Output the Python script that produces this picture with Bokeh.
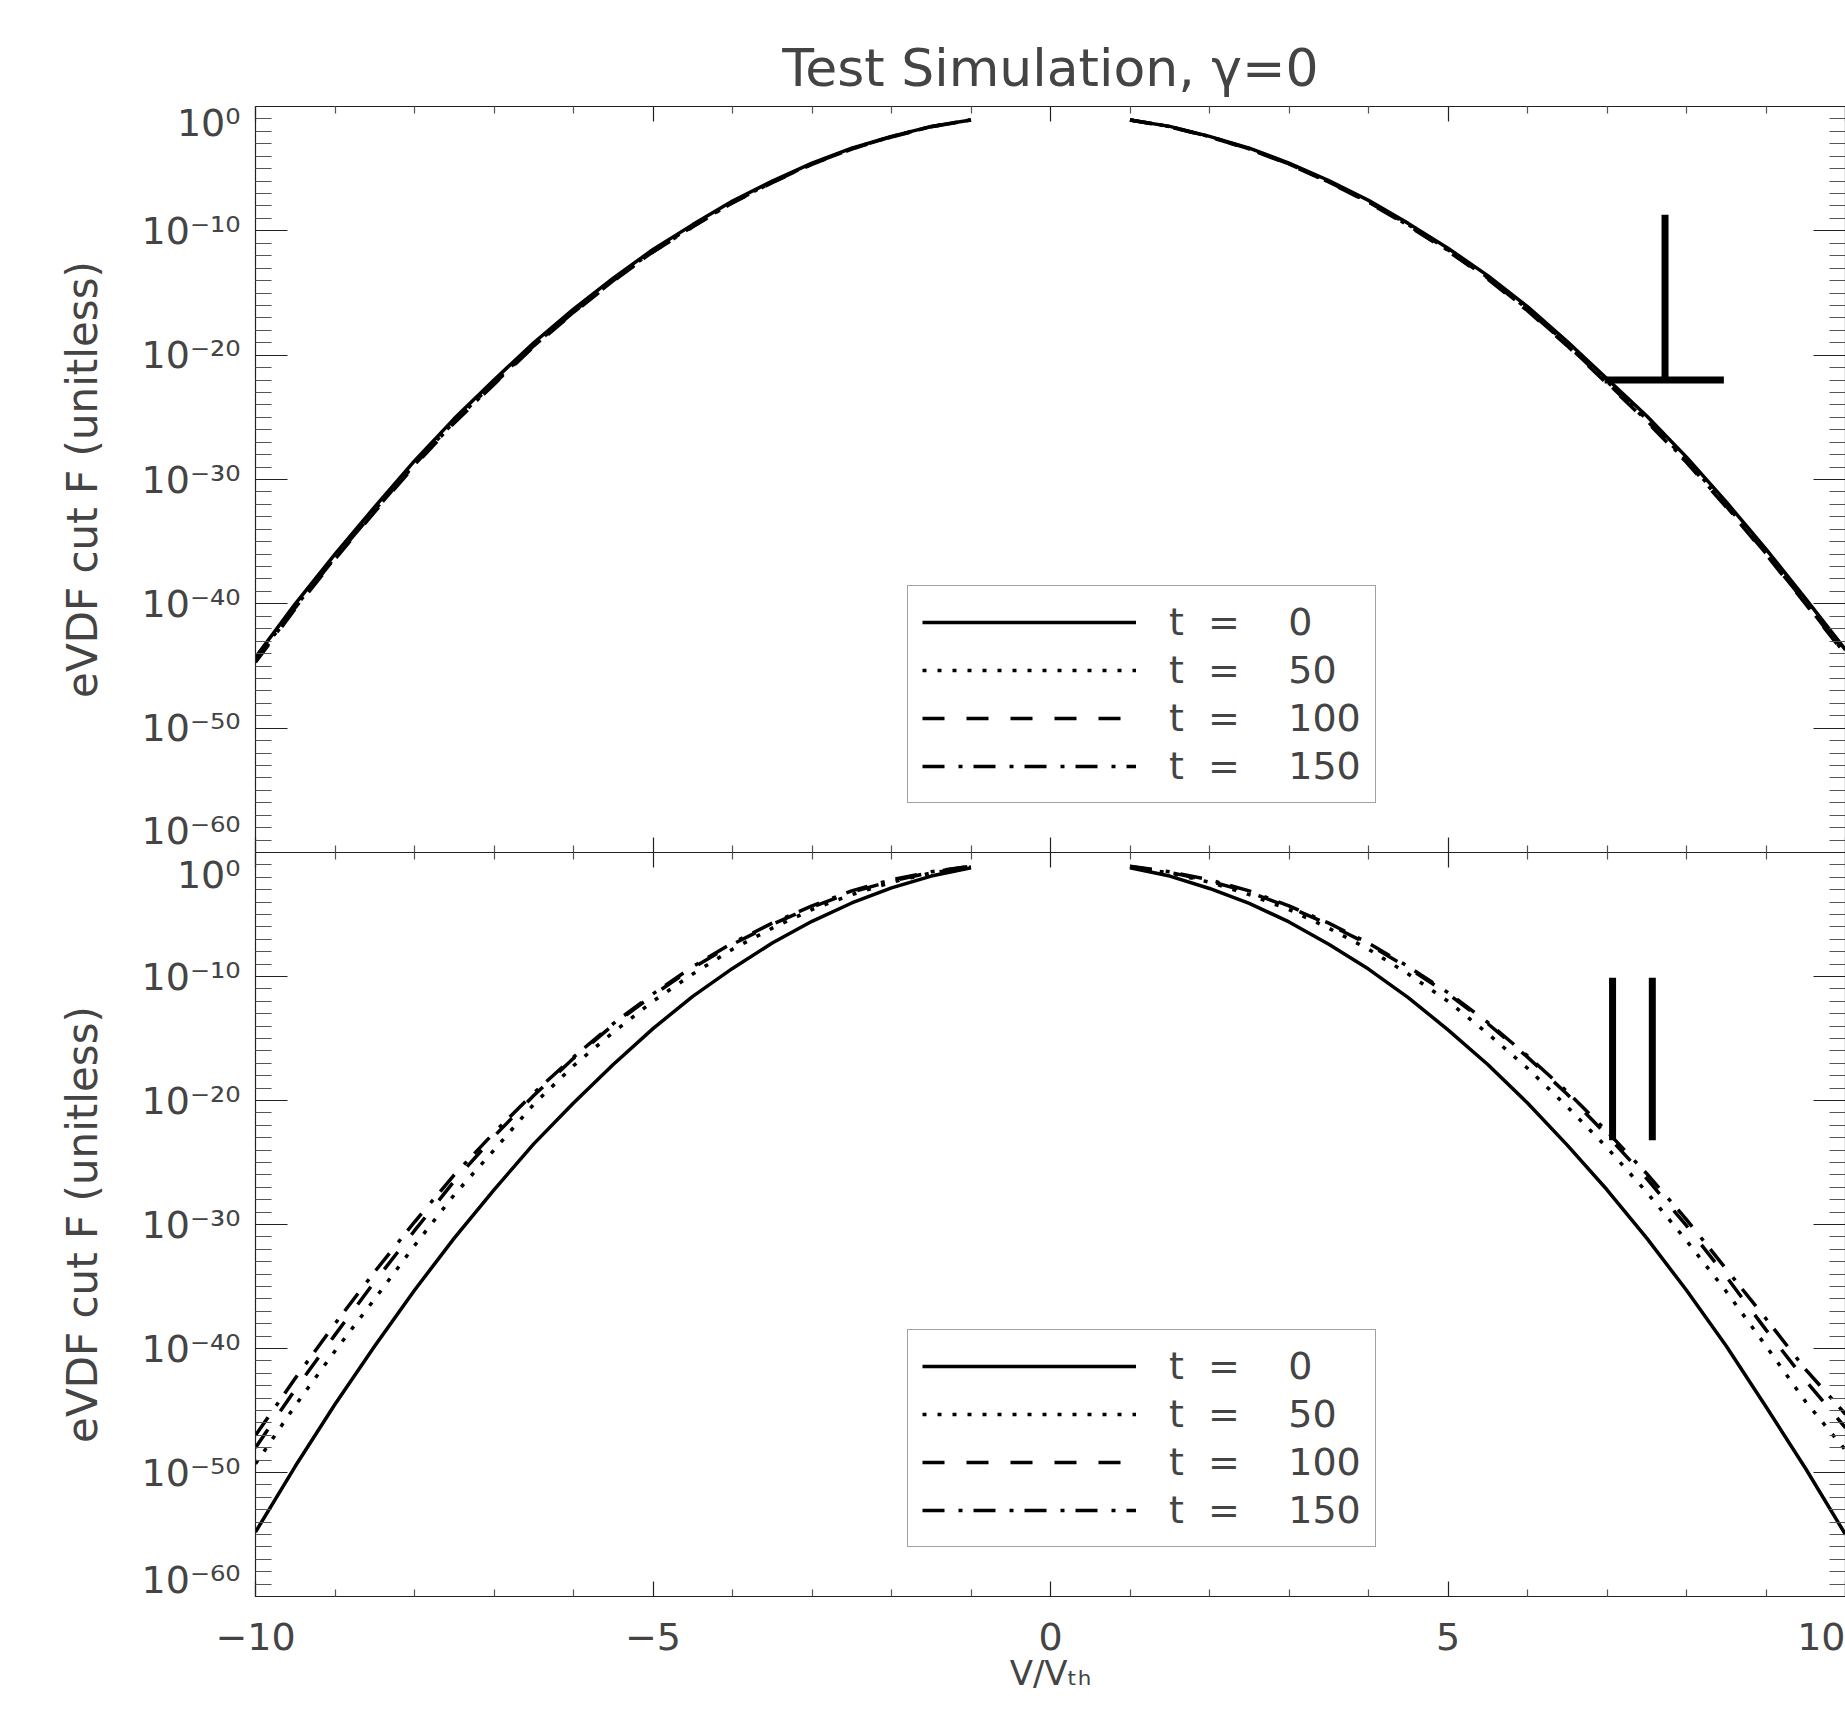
from bokeh.plotting import figure
from bokeh.models import FixedTicker, LogAxis, LinearAxis, Range1d, Legend, LegendItem
from bokeh.layouts import column
from bokeh.embed import file_html
from bokeh.resources import INLINE

# ---------------- data ----------------
TITLE = "Test Simulation, γ=0"
Y_LABEL = "eVDF cut F (unitless)"
X_LABEL = "V/Vₜₕ"

V_NEG = [-10.0, -9.5, -9.0, -8.5, -8.0, -7.5, -7.0, -6.5, -6.0, -5.5,
         -5.0, -4.5, -4.0, -3.5, -3.0, -2.5, -2.0, -1.5, -1.0]
V_POS = [1.0, 1.5, 2.0, 2.5, 3.0, 3.5, 4.0, 4.5, 5.0, 5.5,
         6.0, 6.5, 7.0, 7.5, 8.0, 8.5, 9.0, 9.5, 10.0]

TIMES = [0, 50, 100, 150]
LEGEND_LABELS = ["t  =    0", "t  =    50", "t  =    100", "t  =    150"]

# log10(F), top panel (perpendicular cut), left branch (V<0) and right branch (V>0)
PERP_T0_NEG = [-44.3, -40.0, -36.0, -32.2, -28.5, -25.1, -22.0, -19.0, -16.3, -13.8,
               -11.5, -9.5, -7.6, -6.0, -4.55, -3.35, -2.4, -1.6, -1.08]
PERP_T50_NEG = [-44.5, -40.25, -36.25, -32.45, -28.75, -25.35, -22.2, -19.2, -16.5, -13.95,
                -11.62, -9.6, -7.7, -6.07, -4.6, -3.38, -2.42, -1.61, -1.08]
PERP_T100_NEG = [-44.7, -40.4, -36.4, -32.6, -28.9, -25.45, -22.35, -19.3, -16.6, -14.05,
                 -11.7, -9.68, -7.75, -6.12, -4.65, -3.42, -2.45, -1.63, -1.09]
PERP_T150_NEG = [-44.6, -40.3, -36.3, -32.5, -28.8, -25.4, -22.3, -19.25, -16.55, -14.0,
                 -11.68, -9.65, -7.72, -6.1, -4.62, -3.4, -2.43, -1.62, -1.08]
PERP_T0_POS = [-1.08, -1.6, -2.4, -3.35, -4.55, -5.95, -7.55, -9.4, -11.4, -13.6,
               -16.1, -18.9, -21.9, -24.9, -28.2, -31.8, -35.6, -39.6, -43.7]
PERP_T50_POS = [-1.08, -1.61, -2.42, -3.38, -4.6, -6.02, -7.65, -9.5, -11.52, -13.75,
                -16.3, -19.1, -22.1, -25.15, -28.45, -32.05, -35.85, -39.85, -43.95]
PERP_T100_POS = [-1.09, -1.63, -2.45, -3.42, -4.65, -6.1, -7.72, -9.6, -11.62, -13.88,
                 -16.42, -19.25, -22.28, -25.33, -28.62, -32.22, -36.02, -40.02, -44.12]
PERP_T150_POS = [-1.08, -1.62, -2.43, -3.4, -4.62, -6.06, -7.68, -9.55, -11.57, -13.8,
                 -16.35, -19.17, -22.2, -25.25, -28.55, -32.15, -35.95, -39.95, -44.05]

# log10(F), bottom panel (parallel cut)
PAR_T0_NEG = [-54.8, -49.5, -44.5, -39.8, -35.3, -31.1, -27.2, -23.5, -20.2, -17.1,
              -14.2, -11.6, -9.35, -7.3, -5.55, -4.07, -2.85, -1.9, -1.23]
PAR_T50_NEG = [-49.3, -44.6, -40.2, -36.0, -31.7, -27.6, -24.0, -20.3, -17.2, -14.5,
               -12.0, -9.8, -7.8, -6.1, -4.6, -3.4, -2.4, -1.65, -1.17]
PAR_T100_NEG = [-48.0, -43.3, -38.9, -34.6, -30.5, -26.5, -22.9, -19.6, -16.6, -13.9,
                -11.5, -9.3, -7.4, -5.8, -4.4, -3.2, -2.3, -1.6, -1.12]
PAR_T150_NEG = [-47.0, -42.4, -38.0, -33.8, -29.8, -26.0, -22.6, -19.4, -16.5, -13.8,
                -11.4, -9.2, -7.3, -5.7, -4.3, -3.1, -2.2, -1.55, -1.1]
PAR_T0_POS = [-1.23, -1.9, -2.9, -4.1, -5.6, -7.4, -9.4, -11.7, -14.3, -17.1,
              -20.2, -23.6, -27.2, -31.1, -35.3, -39.8, -44.7, -49.7, -55.0]
PAR_T50_POS = [-1.17, -1.65, -2.4, -3.4, -4.6, -6.1, -7.8, -9.8, -12.0, -14.6,
               -17.4, -20.5, -23.8, -27.4, -31.3, -35.4, -39.8, -44.3, -48.2]
PAR_T100_POS = [-1.12, -1.6, -2.3, -3.2, -4.4, -5.8, -7.4, -9.3, -11.4, -13.8,
                -16.5, -19.5, -22.8, -26.3, -30.1, -34.2, -38.5, -42.6, -46.4]
PAR_T150_POS = [-1.1, -1.55, -2.2, -3.1, -4.3, -5.7, -7.3, -9.2, -11.3, -13.7,
                -16.4, -19.3, -22.5, -25.9, -29.6, -33.6, -37.6, -41.7, -45.3]

# the "perpendicular" and "parallel" symbols drawn in the panels (V, log10 F)
PERP_MARK_V0 = [7.73, 6.97]
PERP_MARK_V1 = [7.73, 8.47]
PERP_MARK_LOG0 = [-8.7, -22.0]
PERP_MARK_LOG1 = [-22.0, -22.0]
PAR_MARK_V0 = [7.07, 7.57]
PAR_MARK_V1 = [7.07, 7.57]
PAR_MARK_LOG0 = [-10.1, -10.1]
PAR_MARK_LOG1 = [-23.2, -23.2]

X_TICKS = [-10, -5, 0, 5, 10]
X_TICK_LABELS = ["−10", "−5", "0", "5", "10"]
X_MINOR = [-9, -8, -7, -6, -4, -3, -2, -1, 1, 2, 3, 4, 6, 7, 8, 9]
Y_MAJOR_EXP = [0, -10, -20, -30, -40, -50, -60]
Y_TICK_LABELS = ["10⁰", "10⁻¹⁰", "10⁻²⁰", "10⁻³⁰", "10⁻⁴⁰", "10⁻⁵⁰", "10⁻⁶⁰"]

# ---------------- styling ----------------
FONT = "DejaVu Sans"
TXT = "#444444"
DASHES = ["solid", "4 11", "22 22", "22 14 4 11"]
LW = 3.5


def pw(vals):
    return [10.0 ** d for d in vals]


def style_axis(ax, major_in, minor_in, ticks):
    ax.major_tick_in = major_in
    ax.major_tick_out = 0
    ax.minor_tick_in = minor_in
    ax.minor_tick_out = 0
    ax.axis_line_color = "#222222"
    ax.axis_line_width = 1.2
    ax.major_tick_line_color = "#222222"
    ax.major_tick_line_width = 1.2
    ax.minor_tick_line_color = "#555555"
    ax.minor_tick_line_width = 1.2
    ax.major_label_text_font_size = "10px"
    ax.major_label_standoff = 0
    ax.major_label_overrides = {t: "" for t in ticks}


def make_panel(top, neg_series, pos_series, mark):
    kw = dict(x_range=Range1d(-10, 10), y_range=Range1d(1e-60, 1.0), y_axis_type="log",
              x_axis_location=None, y_axis_location=None, output_backend="svg",
              toolbar_location=None, frame_width=1590, min_border_left=255,
              min_border_right=0, background_fill_color="white",
              border_fill_color="white", outline_line_color=None)
    if top:
        p = figure(frame_height=746, min_border_top=106, min_border_bottom=0, **kw)
    else:
        p = figure(height=857, min_border_top=0, min_border_bottom=113, **kw)
    p.xgrid.visible = False
    p.ygrid.visible = False

    y_major = [10.0 ** e for e in Y_MAJOR_EXP]
    y_minor = [10.0 ** (-k) for k in range(1, 60) if k % 10 != 0]
    xt = FixedTicker(ticks=X_TICKS, minor_ticks=X_MINOR)
    yt = FixedTicker(ticks=y_major, minor_ticks=y_minor)

    # left axis: IDL-style labels, the outer end labels are pushed inside the panel
    left = LogAxis(ticker=yt)
    style_axis(left, 32, 16, y_major)
    overrides = {}
    n = len(y_major)
    for i, (val, txt) in enumerate(zip(y_major, Y_TICK_LABELS)):
        if top and i == 0:
            overrides[val] = "\n" + txt
        elif (not top) and i == n - 1:
            overrides[val] = txt + "\n"
        else:
            overrides[val] = txt
    left.major_label_overrides = overrides
    left.major_label_text_font = FONT
    left.major_label_text_font_size = "38px"
    left.major_label_text_line_height = 0.75
    left.major_label_text_color = TXT
    left.major_label_standoff = 15
    left.axis_label = Y_LABEL
    left.axis_label_text_font = FONT
    left.axis_label_text_font_size = "42px"
    left.axis_label_text_font_style = "normal"
    left.axis_label_text_color = TXT
    left.axis_label_standoff = 32
    p.add_layout(left, "left")

    right = LogAxis(ticker=yt)
    style_axis(right, 32, 16, y_major)
    p.add_layout(right, "right")

    above = LinearAxis(ticker=xt)
    style_axis(above, 15, 7, X_TICKS)
    p.add_layout(above, "above")

    below = LinearAxis(ticker=xt)
    style_axis(below, 15, 7, X_TICKS)
    if not top:
        below.major_label_text_font_size = "38px"
        below.major_label_text_font = FONT
        below.major_label_text_color = TXT
        below.major_label_standoff = 26
        below.major_label_overrides = {t: s for t, s in zip(X_TICKS, X_TICK_LABELS)}
        below.axis_label = X_LABEL
        below.axis_label_text_font = FONT
        below.axis_label_text_font_size = "34px"
        below.axis_label_text_font_style = "normal"
        below.axis_label_text_color = TXT
        below.axis_label_standoff = 0
    p.add_layout(below, "below")

    renderers = []
    for neg, pos, dash in zip(neg_series, pos_series, DASHES):
        r = p.multi_line(xs=[V_NEG, V_POS], ys=[pw(neg), pw(pos)], line_color="black",
                         line_width=LW, line_dash=dash, line_join="round")
        renderers.append(r)

    mv0, mv1, ml0, ml1 = mark
    p.segment(x0=mv0, x1=mv1, y0=pw(ml0), y1=pw(ml1), line_color="black",
              line_width=7, line_cap="butt")

    legend = Legend(items=[LegendItem(label=lab, renderers=[r])
                           for lab, r in zip(LEGEND_LABELS, renderers)],
                    location=(652, 49), orientation="vertical",
                    glyph_width=214, glyph_height=40, label_standoff=33,
                    label_height=40, padding=14, spacing=4, margin=0,
                    border_line_color="#444444", border_line_width=1.2,
                    label_text_font=FONT, label_text_font_size="38px",
                    label_text_color=TXT, background_fill_color="white",
                    background_fill_alpha=1.0)
    p.add_layout(legend)

    if top:
        p.title.text = TITLE
        p.title.align = "center"
        p.title.text_font = FONT
        p.title.text_font_size = "52px"
        p.title.text_font_style = "normal"
        p.title.text_color = TXT
        p.title.standoff = 17
    return p


p_top = make_panel(True,
                   [PERP_T0_NEG, PERP_T50_NEG, PERP_T100_NEG, PERP_T150_NEG],
                   [PERP_T0_POS, PERP_T50_POS, PERP_T100_POS, PERP_T150_POS],
                   (PERP_MARK_V0, PERP_MARK_V1, PERP_MARK_LOG0, PERP_MARK_LOG1))
p_bot = make_panel(False,
                   [PAR_T0_NEG, PAR_T50_NEG, PAR_T100_NEG, PAR_T150_NEG],
                   [PAR_T0_POS, PAR_T50_POS, PAR_T100_POS, PAR_T150_POS],
                   (PAR_MARK_V0, PAR_MARK_V1, PAR_MARK_LOG0, PAR_MARK_LOG1))

layout = column(p_top, p_bot, spacing=0)
open("out.html", "w").write(file_html(layout, INLINE))
